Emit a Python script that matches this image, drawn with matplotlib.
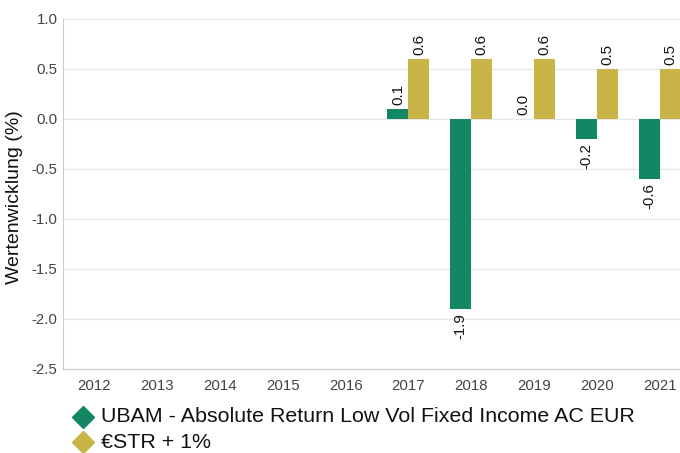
import matplotlib.pyplot as plt
import numpy as np
from matplotlib.lines import Line2D

plt.rcParams['font.family'] = ['Liberation Sans', 'DejaVu Sans']

years = ['2012', '2013', '2014', '2015', '2016', '2017', '2018', '2019', '2020', '2021']
fund = [None, None, None, None, None, 0.1, -1.9, 0.0, -0.2, -0.6]
bench = [None, None, None, None, None, 0.6, 0.6, 0.6, 0.5, 0.5]

fund_name = 'UBAM - Absolute Return Low Vol Fixed Income AC EUR'
bench_name = '€STR + 1%'
green = '#138763'
gold = '#C8B447'

W, H = 680, 453
fig = plt.figure(figsize=(6.8, 4.53), dpi=100)
# plot area runs past the right edge of the picture, as in the original
ax = fig.add_axes([63 / W, 84 / H, 628 / W, 350 / H])

x = np.arange(len(years))
w = 0.335
for i in range(len(years)):
    for val, off, col in [(fund[i], -w / 2, green), (bench[i], w / 2, gold)]:
        if val is None:
            continue
        ax.bar(x[i] + off, val, width=w, color=col, zorder=2)
        if val >= 0:
            ax.annotate(f'{val:.1f}', (x[i] + off, val), xytext=(0, 3), textcoords='offset points',
                        rotation=90, ha='center', va='bottom', fontsize=10.8, color='#111111')
        else:
            ax.annotate(f'{val:.1f}', (x[i] + off, val), xytext=(0, -3), textcoords='offset points',
                        rotation=90, ha='center', va='top', fontsize=10.8, color='#111111')

ax.set_xlim(-0.5, len(years) - 0.5)
ax.set_ylim(-2.5, 1.0)
yt = np.arange(-2.5, 1.01, 0.5)
ax.set_yticks(yt)
ax.set_yticklabels([f'{v:.1f}' for v in yt])
ax.set_xticks(x)
ax.set_xticklabels(years)
ax.tick_params(length=0, labelsize=10.8, labelcolor='#444444')
ax.tick_params(axis='y', pad=4)
ax.tick_params(axis='x', pad=7)
ax.grid(axis='y', color='#e6e6e6', linewidth=1, zorder=0)
ax.set_axisbelow(True)
for s in ['top', 'right']:
    ax.spines[s].set_visible(False)
for s in ['left', 'bottom']:
    ax.spines[s].set_color('#cccccc')

fig.text(15 / W, (H - 197) / H, 'Wertenwicklung (%)', fontsize=14, color='#111111',
         rotation=90, ha='center', va='center')

# legend drawn by hand at the bottom left
for k, (name, col) in enumerate([(fund_name, green), (bench_name, gold)]):
    yy = (H - 417 - 25 * k) / H
    fig.add_artist(Line2D([83 / W], [yy], marker='D', markersize=11.5, color=col,
                          linestyle='none', transform=fig.transFigure))
    fig.text(101 / W, yy, name, fontsize=15.4, color='#111111', va='center', ha='left')

fig.savefig('out.png', dpi=100)
